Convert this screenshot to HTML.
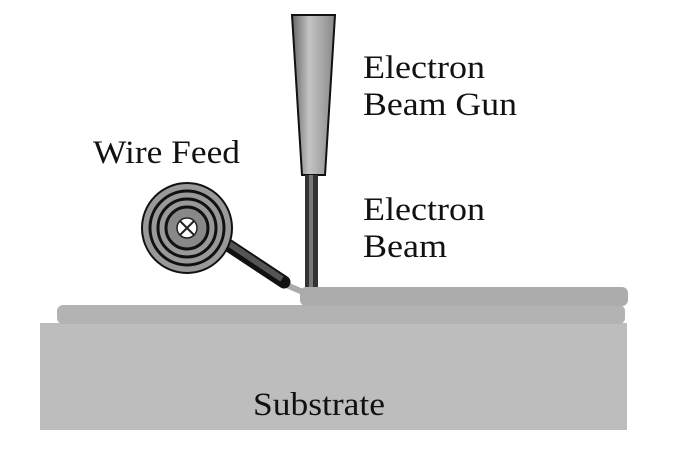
<!DOCTYPE html>
<html><head><style>
html,body{margin:0;padding:0;background:#fff;width:687px;height:460px;overflow:hidden}
text{font-family:"Liberation Serif",serif;font-size:33px;fill:#111}
</style></head><body>
<svg width="687" height="460" viewBox="0 0 687 460">
<defs>
<linearGradient id="g" x1="0" x2="1"><stop offset="0" stop-color="#666"/><stop offset="0.4" stop-color="#c4c4c4"/><stop offset="1" stop-color="#888"/></linearGradient>
</defs>
<rect x="40" y="323" width="587" height="107" fill="#bdbdbd"/>
<rect x="57" y="305" width="568" height="19" rx="6" fill="#b3b3b3"/>
<rect x="300" y="287" width="328" height="19" rx="6" fill="#acacac"/>
<polygon points="292,15 335,15 325,175 302,175" fill="url(#g)" stroke="#111" stroke-width="2"/>
<rect x="305" y="175" width="13" height="112" fill="#333"/>
<rect x="309" y="175" width="4" height="112" fill="#777"/>
<line x1="282" y1="283" x2="305" y2="293" stroke="#aaa" stroke-width="6"/>
<line x1="225" y1="243" x2="284" y2="282" stroke="#111" stroke-width="13" stroke-linecap="round"/>
<line x1="228" y1="243" x2="282" y2="279" stroke="#555" stroke-width="6"/>
<circle cx="187" cy="228" r="45" fill="#999" stroke="#111" stroke-width="2"/>
<circle cx="187" cy="228" r="37" fill="none" stroke="#111" stroke-width="3"/>
<circle cx="187" cy="228" r="29" fill="none" stroke="#111" stroke-width="3"/>
<circle cx="187" cy="228" r="21" fill="#888" stroke="#111" stroke-width="3"/>
<circle cx="187" cy="228" r="10" fill="#fff" stroke="#222" stroke-width="1.5"/>
<line x1="180" y1="221" x2="194" y2="235" stroke="#222" stroke-width="2"/>
<line x1="194" y1="221" x2="180" y2="235" stroke="#222" stroke-width="2"/>
<text x="363" y="78" textLength="122" lengthAdjust="spacingAndGlyphs">Electron</text>
<text x="363" y="115" textLength="154" lengthAdjust="spacingAndGlyphs">Beam Gun</text>
<text x="93" y="163" textLength="147" lengthAdjust="spacingAndGlyphs">Wire Feed</text>
<text x="363" y="220" textLength="122" lengthAdjust="spacingAndGlyphs">Electron</text>
<text x="363" y="257" textLength="84" lengthAdjust="spacingAndGlyphs">Beam</text>
<text x="253" y="415" textLength="132" lengthAdjust="spacingAndGlyphs">Substrate</text>
</svg>
</body></html>
